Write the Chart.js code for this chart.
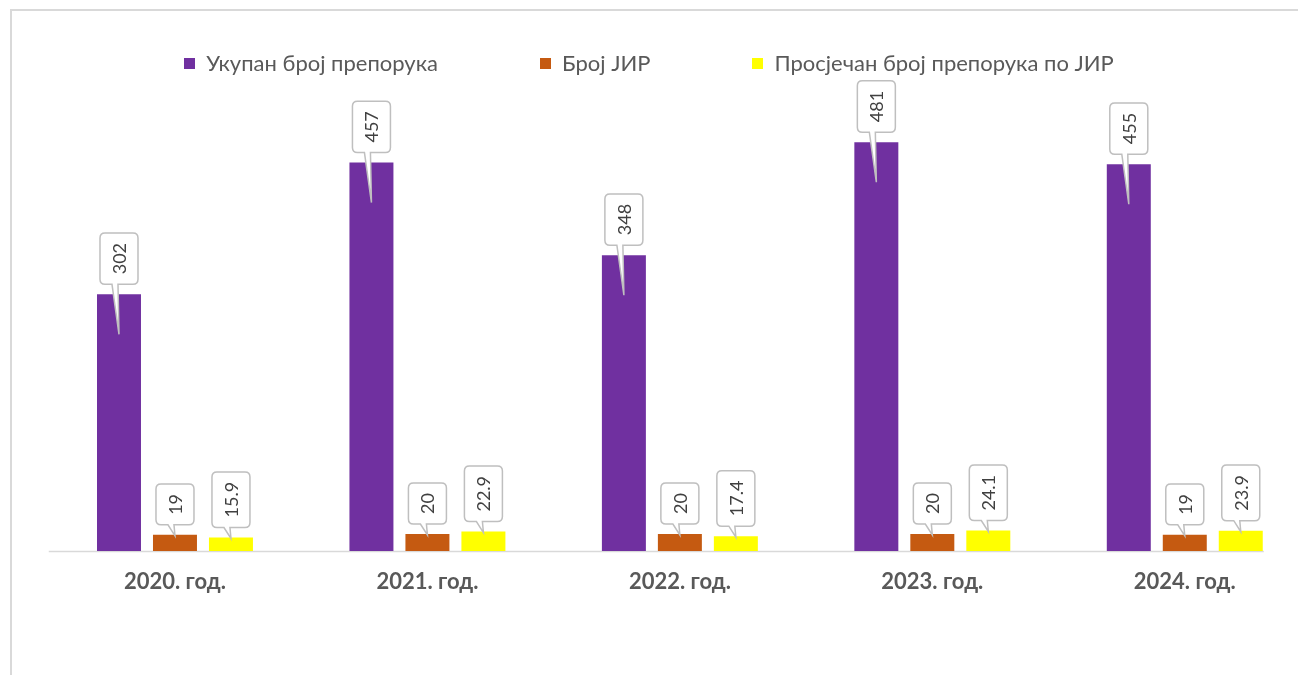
<!DOCTYPE html>
<html>
<head>
<meta charset="utf-8">
<script src="https://cdn.jsdelivr.net/npm/chart.js@4.4.1/dist/chart.umd.min.js"></script>
<style>
  html, body { margin:0; padding:0; background:#fff; overflow:hidden; }
  #frame { position:absolute; left:10px; top:9px; width:2000px; height:2000px;
           border-top:2px solid #d9d9d9; border-left:2px solid #d9d9d9; }
  #wrap { position:absolute; left:0; top:0; width:1320px; height:675px; }
  #legend { position:absolute; left:0; top:50px; width:1298px; display:flex; justify-content:center;
            gap:102px; font-family:Lato, sans-serif; font-size:22px; line-height:26px; color:#595959; }
  #legend .it { display:flex; align-items:center; }
  #legend .sq { width:11px; height:11px; margin-right:11px; }
</style>
</head>
<body>
<div id="frame"></div>
<div id="wrap"><canvas id="chart"></canvas></div>
<div id="legend"></div>
<script>
  // Podaci
  const godine     = ['2020. год.','2021. год.','2022. год.','2023. год.','2024. год.'];
  const ukupno     = [302, 457, 348, 481, 455];
  const brojJir    = [19, 20, 20, 20, 19];
  const prosjek    = [15.9, 22.9, 17.4, 24.1, 23.9];
  const nazivi     = ['Укупан број препорука','Број ЈИР','Просјечан број препорука по ЈИР'];
  const boje       = ['#7030A0','#C55A11','#FFFF00'];

  // Legenda
  document.getElementById('legend').innerHTML = nazivi.map((n,i)=>
    `<div class="it"><span class="sq" style="background:${boje[i]}"></span>${n}</div>`
  ).join('');

  // Oblacici sa vrijednostima
  const callouts = {
    id:'callouts',
    afterDatasetsDraw(chart){
      const ctx = chart.ctx;
      ctx.save();
      ctx.font = '18px Lato, sans-serif';
      chart.data.datasets.forEach((ds, di)=>{
        const meta = chart.getDatasetMeta(di);
        meta.data.forEach((bar, i)=>{
          const v = ds.data[i];
          const txt = Number.isInteger(v) ? String(v) : v.toFixed(1);
          const tw = ctx.measureText(txt).width;
          const w = 38, h = tw + 20;
          const cx = bar.x;
          const bottom = bar.y - 10;
          const top = bottom - h;
          const tipY = (bar.base - bar.y) > 60 ? bar.y + 40 : bar.y + 1;
          const r = 5, left = cx - w/2, right = cx + w/2;
          ctx.beginPath();
          ctx.moveTo(left + r, top);
          ctx.lineTo(right - r, top);
          ctx.quadraticCurveTo(right, top, right, top + r);
          ctx.lineTo(right, bottom - r);
          ctx.quadraticCurveTo(right, bottom, right - r, bottom);
          ctx.lineTo(cx - 1, bottom);
          ctx.lineTo(cx, tipY);
          ctx.lineTo(cx - 7, bottom);
          ctx.lineTo(left + r, bottom);
          ctx.quadraticCurveTo(left, bottom, left, bottom - r);
          ctx.lineTo(left, top + r);
          ctx.quadraticCurveTo(left, top, left + r, top);
          ctx.closePath();
          ctx.fillStyle = '#fff';
          ctx.fill();
          ctx.lineWidth = 1.5;
          ctx.strokeStyle = '#bfbfbf';
          ctx.stroke();
          ctx.save();
          ctx.translate(cx, top + h/2);
          ctx.rotate(-Math.PI/2);
          ctx.fillStyle = '#404040';
          ctx.textAlign = 'center';
          ctx.textBaseline = 'middle';
          ctx.fillText(txt, 0, 1);
          ctx.restore();
        });
      });
      ctx.restore();
    }
  };

  // Osnovna linija
  const baseLine = {
    id:'baseLine',
    beforeDatasetsDraw(chart){
      const ctx = chart.ctx, a = chart.chartArea;
      const last = chart.getDatasetMeta(chart.data.datasets.length-1).data;
      const endX = last[last.length-1].x + last[last.length-1].width/2 + 1;
      ctx.save();
      ctx.strokeStyle = '#d9d9d9';
      ctx.lineWidth = 1.5;
      ctx.beginPath();
      ctx.moveTo(a.left, a.bottom + 0.5);
      ctx.lineTo(endX, a.bottom + 0.5);
      ctx.stroke();
      ctx.restore();
    }
  };

  new Chart(document.getElementById('chart'), {
    type:'bar',
    data:{
      labels: godine,
      datasets:[ukupno, brojJir, prosjek].map((d,i)=>({
        label: nazivi[i],
        data: d,
        backgroundColor: boje[i],
        borderWidth: 0,
        categoryPercentage: 0.6653,
        barPercentage: 0.7857
      }))
    },
    options:{
      responsive:true,
      maintainAspectRatio:false,
      animation:false,
      layout:{ padding:{ top:126, left:48.75, right:9, bottom:0 } },
      plugins:{ legend:{ display:false }, tooltip:{ enabled:false } },
      scales:{
        x:{
          grid:{ display:false, drawTicks:false },
          border:{ display:false },
          ticks:{ color:'#595959', padding:18, font:{ family:'Lato', size:22, weight:'bold' } },
          afterFit(s){ s.height = 124; }
        },
        y:{ display:false, min:0, max:500 }
      }
    },
    plugins:[baseLine, callouts]
  });
</script>
</body>
</html>
